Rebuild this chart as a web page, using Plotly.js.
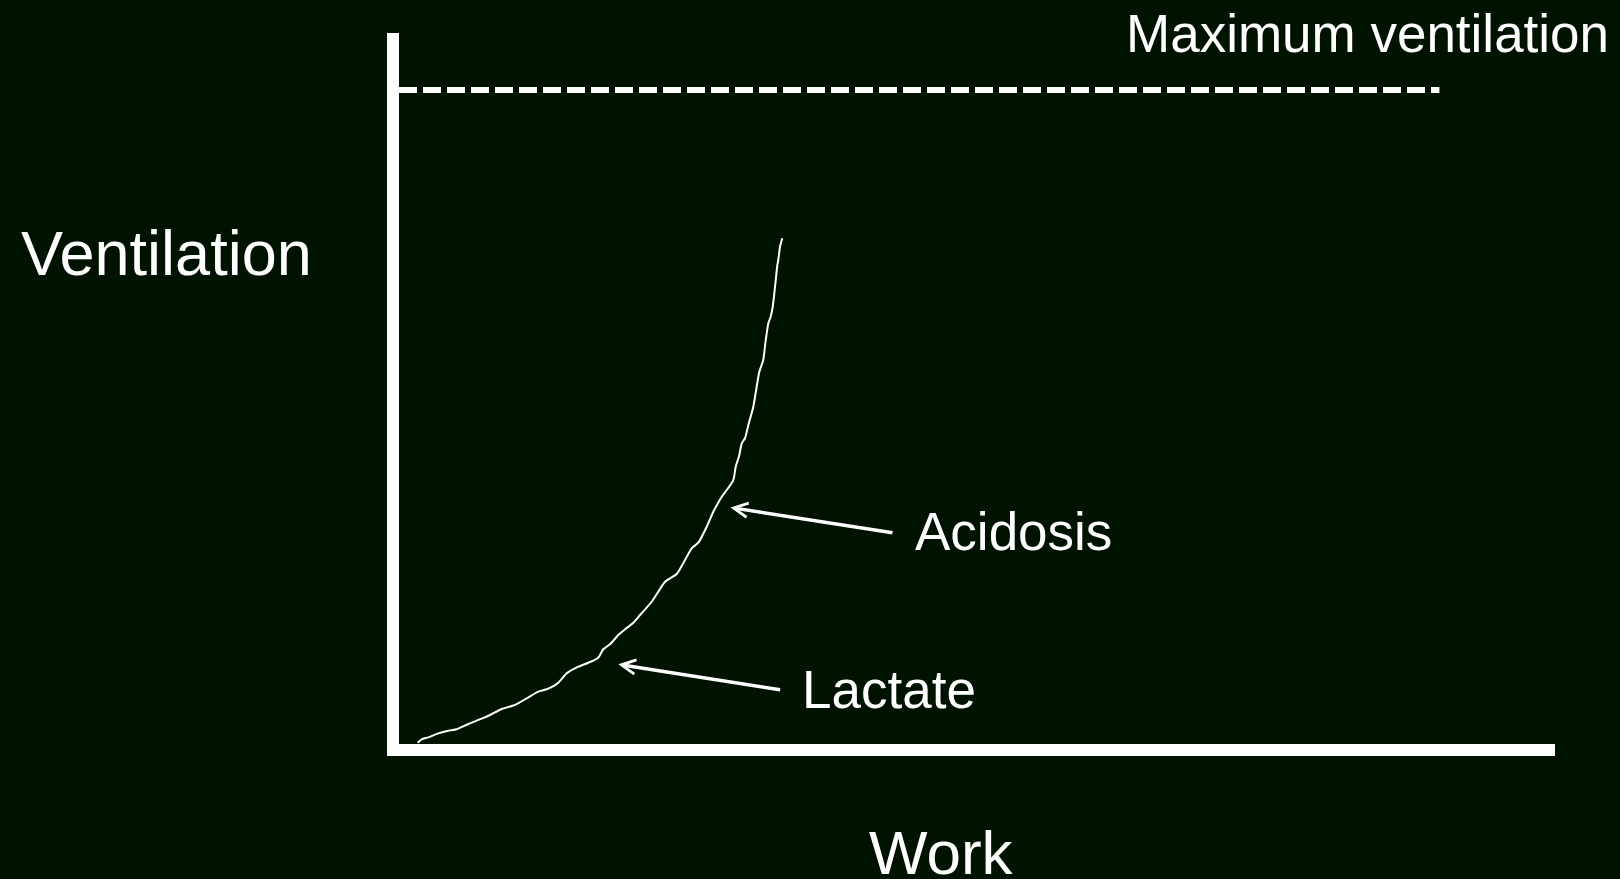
<!DOCTYPE html>
<html>
<head>
<meta charset="utf-8">
<script src="https://cdn.plot.ly/plotly-3.0.1.min.js"></script>
<style>
  html, body { margin: 0; padding: 0; background: #001300; overflow: hidden; }
  #chart { width: 1620px; height: 879px; }
</style>
</head>
<body>
<div id="chart"></div>
<script>
// Curve: ventilation vs work (arbitrary units 0-100)
const workValues = [1.62, 1.96, 2.53, 3.40, 4.26, 4.99, 5.99, 7.15, 7.87, 8.88, 10.03, 11.19, 12.05, 12.92, 13.78, 14.51, 15.51, 16.38, 17.24, 17.67, 18.25, 18.97, 19.55, 20.27, 20.85, 21.86, 22.43, 23.01, 24.02, 24.74, 25.32, 25.89, 26.62, 27.19, 27.42, 27.92, 28.35, 28.92, 29.13, 29.44, 29.65, 29.93, 30.22, 30.65, 30.94, 31.17, 31.51, 31.69, 31.95, 32.15, 32.33, 32.53, 32.73, 32.81, 32.96, 33.16];
const ventilationValues = [0.18, 0.66, 0.94, 1.50, 1.87, 2.07, 2.81, 3.56, 4.08, 4.92, 5.49, 6.57, 7.36, 7.78, 8.62, 9.94, 10.87, 11.43, 12.14, 13.32, 14.02, 15.33, 16.13, 17.06, 18.14, 20.01, 21.42, 22.83, 23.91, 25.88, 27.52, 28.31, 30.56, 32.67, 33.38, 34.78, 35.72, 37.13, 39.00, 40.65, 42.29, 43.00, 44.87, 47.44, 50.25, 52.36, 54.01, 56.36, 59.17, 60.10, 61.50, 64.32, 67.37, 68.07, 69.94, 71.12];

// Maximum ventilation reference line
const maxVentX = [0, 90];
const maxVentY = [92, 92];

// Labels
const xTitle = "Work";
const yTitle = "Ventilation";
const maxLabel = "Maximum ventilation";
const annotationLabels = ["Acidosis", "Lactate"];
// arrow tips (on the curve) and tails
const arrowTipX = [28.68, 18.97];
const arrowTipY = [33.26, 11.21];
const arrowTailX = [42.82, 33.10];
const arrowTailY = [29.68, 7.59];
const labelX = [44.47, 34.69];
const labelY = [29.82, 7.66];

const bg = "#001300";
const fg = "#ffffff";
const fontFam = "'Liberation Sans', Arial, sans-serif";

const traces = [
  {
    x: maxVentX, y: maxVentY, type: "scatter", mode: "lines",
    line: { color: fg, width: 6, dash: "18px,6px" },
    hoverinfo: "skip", showlegend: false
  },
  {
    x: workValues, y: ventilationValues, type: "scatter", mode: "lines",
    line: { color: fg, width: 2, shape: "spline", smoothing: 0.6 },
    hoverinfo: "skip", showlegend: false
  }
];

const annotations = [];
for (let i = 0; i < annotationLabels.length; i++) {
  annotations.push({
    x: arrowTipX[i], y: arrowTipY[i], xref: "x", yref: "y",
    ax: arrowTailX[i], ay: arrowTailY[i], axref: "x", ayref: "y",
    text: "", showarrow: true, arrowhead: 5, arrowsize: 0.8,
    arrowwidth: 3.5, arrowcolor: fg
  });
  annotations.push({
    x: labelX[i], y: labelY[i], xref: "x", yref: "y",
    text: annotationLabels[i], showarrow: false,
    xanchor: "left", yanchor: "middle",
    font: { family: fontFam, size: 53, color: fg }
  });
}
annotations.push({
  x: 1.0485, y: 0.9995, xref: "paper", yref: "paper",
  text: maxLabel, showarrow: false, xanchor: "right", yanchor: "middle",
  font: { family: fontFam, size: 53, color: fg }
});
annotations.push({
  x: -0.329, y: 0.691, xref: "paper", yref: "paper",
  text: yTitle, showarrow: false, xanchor: "left", yanchor: "middle",
  font: { family: fontFam, size: 63, color: fg }
});
annotations.push({
  x: 0.4689, y: -0.1533, xref: "paper", yref: "paper",
  text: xTitle, showarrow: false, xanchor: "center", yanchor: "middle",
  font: { family: fontFam, size: 62, color: fg }
});

const axisCommon = {
  showgrid: false, zeroline: false, showticklabels: false, ticks: "",
  showline: true, linecolor: fg, linewidth: 12, fixedrange: true
};

const layout = {
  width: 1620, height: 879,
  margin: { l: 399, r: 65, t: 33, b: 135, pad: 0 },
  paper_bgcolor: bg, plot_bgcolor: bg,
  font: { family: fontFam, color: fg },
  xaxis: Object.assign({ range: [0, 100] }, axisCommon),
  yaxis: Object.assign({ range: [0, 100] }, axisCommon),
  annotations: annotations,
  showlegend: false
};

Plotly.newPlot("chart", traces, layout, { displayModeBar: false, staticPlot: true });
</script>
</body>
</html>
